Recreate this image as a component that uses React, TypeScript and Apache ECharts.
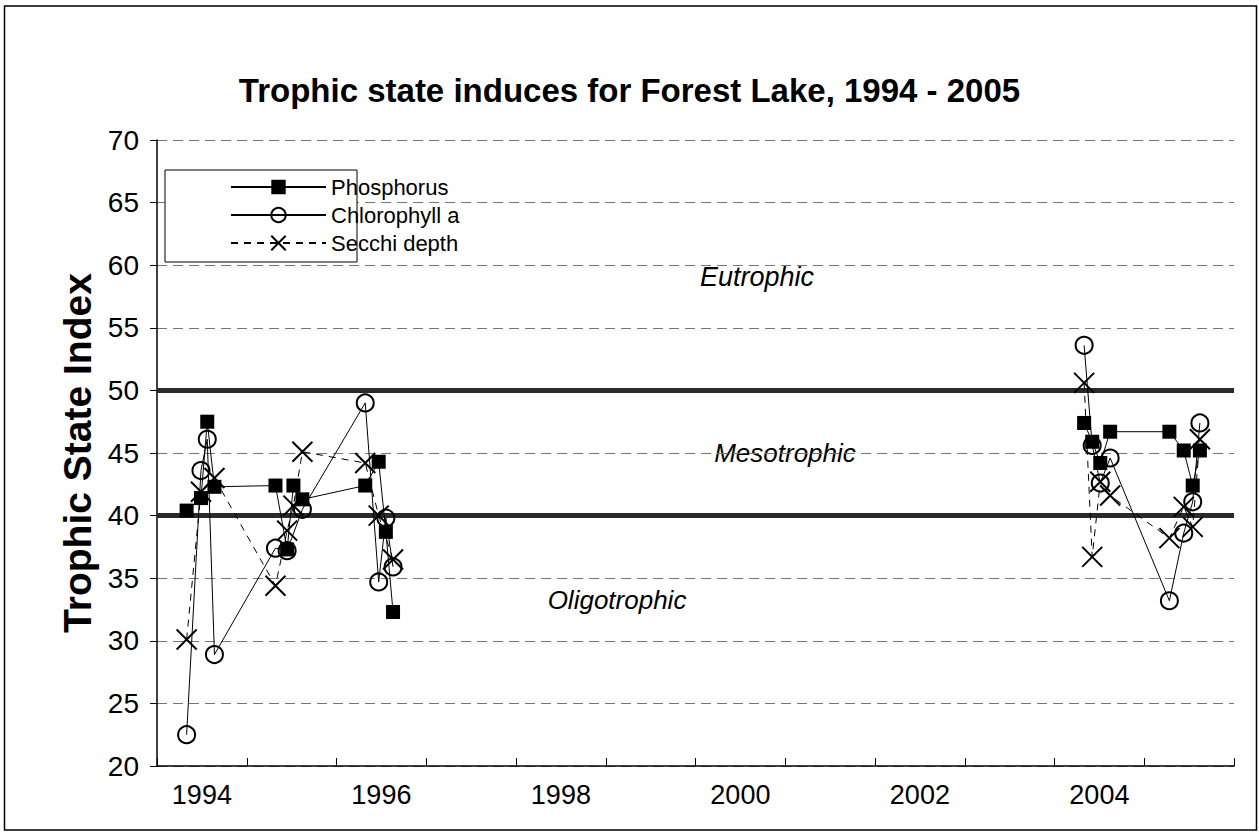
import React, { useEffect, useRef } from "react";
import * as echarts from "echarts";

// Sampling dates (decimal years)
const dates = [
  1994.33, 1994.49, 1994.56, 1994.64,
  1995.32, 1995.45, 1995.52, 1995.62,
  1996.32, 1996.47, 1996.55, 1996.63,
  2004.33, 2004.42, 2004.51, 2004.62,
  2005.28, 2005.44, 2005.54, 2005.62,
];
const phosphorus = [
  40.4, 41.4, 47.5, 42.3,
  42.4, 37.3, 42.4, 41.3,
  42.4, 44.3, 38.7, 32.3,
  47.4, 45.9, 44.2, 46.7,
  46.7, 45.2, 42.4, 45.2,
];
const chlorophyll = [
  22.5, 43.6, 46.1, 28.9,
  37.4, 37.2, null, 40.5,
  49.0, 34.7, 39.8, 35.9,
  53.6, 45.6, 42.6, 44.6,
  33.2, 38.6, 41.1, 47.4,
];
const secchi = [
  30.1, 41.9, null, 43.0,
  34.4, 38.8, 40.8, 45.1,
  44.2, 40.0, null, 36.5,
  50.6, 36.7, 42.7, 41.6,
  38.2, 40.7, 39.1, 46.1,
];
const yearLabels = ["1994", "1995", "1996", "1997", "1998", "1999", "2000", "2001", "2002", "2003", "2004", "2005"];
const boundaries = [50, 40];
const gapYear = 2000;

const FONT = '"Liberation Sans", Arial, Helvetica, sans-serif';

function buildSeriesData(vals: (number | null)[]) {
  const out: any[] = [];
  let gapInserted = false;
  dates.forEach((d, i) => {
    if (!gapInserted && d > gapYear) {
      out.push([gapYear, "-"]);
      gapInserted = true;
    }
    if (vals[i] !== null) out.push([d, vals[i]]);
  });
  return out;
}

const X_PATH = "path://M0 0L20 20M20 0L0 20";

export default function App() {
  const ref = useRef<HTMLDivElement>(null);
  useEffect(() => {
    document.body.style.margin = "0";
    const chart = echarts.init(ref.current!, null, { renderer: "svg" });
    const option: any = {
      animation: false,
      backgroundColor: "#fff",
      textStyle: { fontFamily: FONT, color: "#000" },
      title: {
        text: "Trophic state induces for Forest Lake, 1994 - 2005",
        left: "center",
        top: 69,
        textStyle: { fontFamily: FONT, fontSize: 33, fontWeight: "bold", color: "#000" },
      },
      grid: { left: 157, right: 25, top: 140, bottom: 68, containLabel: false },
      legend: {
        left: 230,
        top: 176,
        orient: "vertical",
        padding: 0,
        itemWidth: 95,
        itemHeight: 18,
        itemGap: 6,
        itemStyle: {},
        z: 5,
        textStyle: { fontFamily: FONT, fontSize: 22, color: "#000" },
        data: ["Phosphorus", "Chlorophyll a", "Secchi depth"],
      },
      xAxis: [
        {
          type: "value",
          min: 1994,
          max: 2006,
          interval: 1,
          axisLine: { show: true, lineStyle: { color: "#000", width: 1.5 } },
          axisTick: { show: true, inside: true, length: 8, lineStyle: { color: "#000" } },
          axisLabel: { show: false },
          splitLine: { show: false },
        },
        {
          type: "category",
          position: "bottom",
          data: yearLabels,
          boundaryGap: true,
          axisLine: { show: false },
          axisTick: { show: false },
          splitLine: { show: false },
          axisLabel: { interval: 1, margin: 15, fontSize: 27, fontFamily: FONT, color: "#000" },
        },
      ],
      yAxis: {
        type: "value",
        min: 20,
        max: 70,
        interval: 5,
        name: "Trophic State Index",
        nameLocation: "middle",
        nameRotate: 90,
        nameGap: 58,
        nameTextStyle: { fontFamily: FONT, fontSize: 39, fontWeight: "bold", color: "#000" },
        axisLine: { show: true, lineStyle: { color: "#000", width: 1.5 } },
        axisTick: { show: true, inside: false, length: 7, lineStyle: { color: "#000" } },
        axisLabel: { fontSize: 28, fontFamily: FONT, color: "#000", margin: 18 },
        splitLine: { show: true, lineStyle: { color: "#777", width: 1, type: [10, 6] } },
      },
      series: [
        {
          name: "Phosphorus",
          type: "line",
          xAxisIndex: 0,
          data: buildSeriesData(phosphorus),
          symbol: "rect",
          symbolSize: 14,
          connectNulls: false,
          itemStyle: { color: "#000" },
          lineStyle: { color: "#000", width: 1 },
          z: 4,
          markLine: {
            silent: true,
            symbol: ["none", "none"],
            label: { show: false },
            lineStyle: { color: "#2a2a2a", width: 5, type: "solid" },
            data: boundaries.map((b) => ({ yAxis: b })),
            z: 2,
          },
        },
        {
          name: "Chlorophyll a",
          type: "line",
          xAxisIndex: 0,
          data: buildSeriesData(chlorophyll),
          symbol: "circle",
          symbolSize: 17,
          connectNulls: false,
          itemStyle: { color: "rgba(255,255,255,0)", borderColor: "#000", borderWidth: 2 },
          lineStyle: { color: "#000", width: 1 },
          z: 4,
        },
        {
          name: "Secchi depth",
          type: "line",
          xAxisIndex: 0,
          data: buildSeriesData(secchi),
          symbol: X_PATH,
          symbolSize: 20,
          connectNulls: false,
          itemStyle: { color: "rgba(255,255,255,0)", borderColor: "#000", borderWidth: 2 },
          lineStyle: { color: "#000", width: 1, type: [7, 6] },
          z: 4,
        },
      ],
      graphic: [
        {
          type: "rect",
          shape: { x: 4.5, y: 6, width: 1252, height: 824 },
          style: { fill: "none", stroke: "#000", lineWidth: 1.5 },
          silent: true,
          z: 0,
        },
        {
          type: "rect",
          shape: { x: 165, y: 170, width: 192, height: 92 },
          style: { fill: "#fff", stroke: "#000", lineWidth: 1 },
          silent: true,
          z: 1,
        },
        {
          type: "text",
          x: 757,
          y: 277,
          style: { text: "Eutrophic", font: `italic 27px ${FONT}`, fill: "#000", textAlign: "center", textVerticalAlign: "middle" },
        },
        {
          type: "text",
          x: 785,
          y: 453,
          style: { text: "Mesotrophic", font: `italic 26px ${FONT}`, fill: "#000", textAlign: "center", textVerticalAlign: "middle" },
        },
        {
          type: "text",
          x: 617,
          y: 600,
          style: { text: "Oligotrophic", font: `italic 26px ${FONT}`, fill: "#000", textAlign: "center", textVerticalAlign: "middle" },
        },
      ],
    };
    chart.setOption(option);
    return () => chart.dispose();
  }, []);
  return <div ref={ref} style={{ width: 1259, height: 834 }} />;
}
